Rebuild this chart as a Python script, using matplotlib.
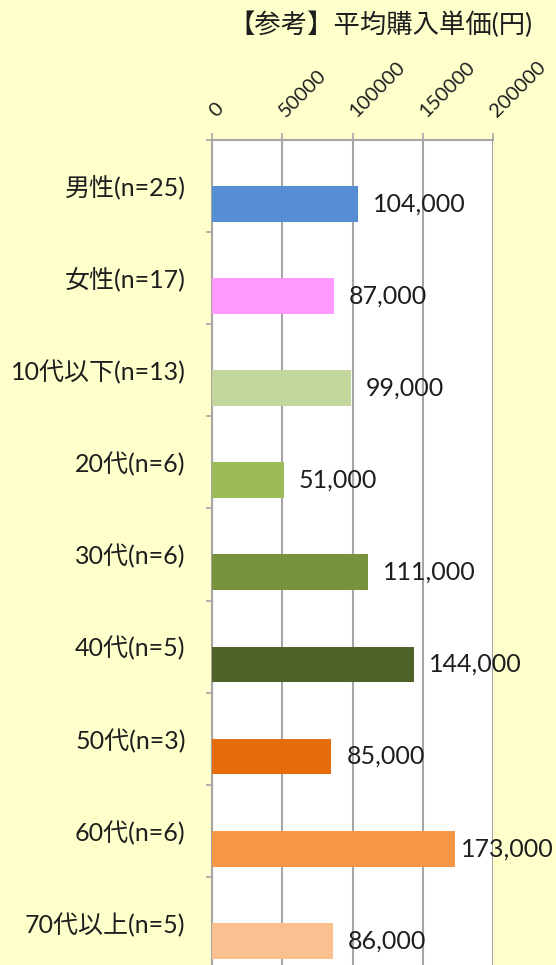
import matplotlib
matplotlib.use("Agg")
import matplotlib.pyplot as plt
from matplotlib.ticker import FixedLocator

plt.rcParams['font.family'] = ['Lato', 'Noto Sans CJK JP', 'DejaVu Sans']

categories = ["男性(n=25)", "女性(n=17)", "10代以下(n=13)", "20代(n=6)", "30代(n=6)",
              "40代(n=5)", "50代(n=3)", "60代(n=6)", "70代以上(n=5)"]
values = [104000, 87000, 99000, 51000, 111000, 144000, 85000, 173000, 86000]
value_labels = ["104,000", "87,000", "99,000", "51,000", "111,000",
                "144,000", "85,000", "173,000", "86,000"]
xticks = [0, 50000, 100000, 150000, 200000]
xtick_labels = ["0", "50000", "100000", "150000", "200000"]
title = "【参考】平均購入単価(円)"

colors = ["#558ED5", "#FF99FF", "#C3D69B", "#9BBB59", "#77933C",
          "#4F6228", "#E46C0A", "#F79646", "#FAC090"]
label_pad_pt = [10.8, 10.8, 10.8, 10.8, 10.8, 10.8, 10.8, 4.3, 10.8]

W, H = 556, 965
fig = plt.figure(figsize=(W / 100, H / 100), dpi=100)
fig.patch.set_facecolor("#FFFFCC")

left, right, top, bottom = 212, 493, 140.3, 968.7
ax = fig.add_axes([left / W, 1 - bottom / H, (right - left) / W, (bottom - top) / H])
ax.set_facecolor("white")

n = len(categories)
idx = list(range(n))
ax.barh(idx, values, height=0.39, align="edge", color=colors, edgecolor="none", zorder=3)

ax.set_xlim(0, 200000)
ax.set_ylim(n - 0.5, -0.5)

grid_c = "#A6A6A6"
text_c = "#1E1E1E"
ax.xaxis.tick_top()
ax.set_xticks(xticks)
ax.set_xticklabels(xtick_labels, rotation=45, ha="left", va="center",
                   rotation_mode="anchor", fontsize=14.5, color=text_c)
ax.tick_params(axis="x", which="major", direction="out", length=5, width=1.2,
               color=grid_c, pad=14)
ax.grid(axis="x", color=grid_c, linewidth=1.5, zorder=1)

ax.set_yticks(idx)
ax.set_yticklabels(categories, fontsize=18, color=text_c)
ax.tick_params(axis="y", which="major", length=0, pad=19)
ax.yaxis.set_minor_locator(FixedLocator([i + 0.5 for i in range(-1, n)]))
ax.tick_params(axis="y", which="minor", direction="out", length=4.5, width=1.2, color=grid_c)

for s in ["bottom", "right"]:
    ax.spines[s].set_visible(False)
for s in ["top", "left"]:
    ax.spines[s].set_color(grid_c)
    ax.spines[s].set_linewidth(1.5)

for i, (v, lab) in enumerate(zip(values, value_labels)):
    ax.annotate(lab, xy=(v, i + 0.195), xytext=(label_pad_pt[i], 0),
                textcoords="offset points", ha="left", va="center",
                fontsize=18, color=text_c, zorder=4, annotation_clip=False)

fig.text(380 / W, 1 - 25 / H, title, ha="center", va="center", fontsize=19,
         color=text_c)

fig.savefig("out.png", dpi=100, facecolor=fig.get_facecolor())
